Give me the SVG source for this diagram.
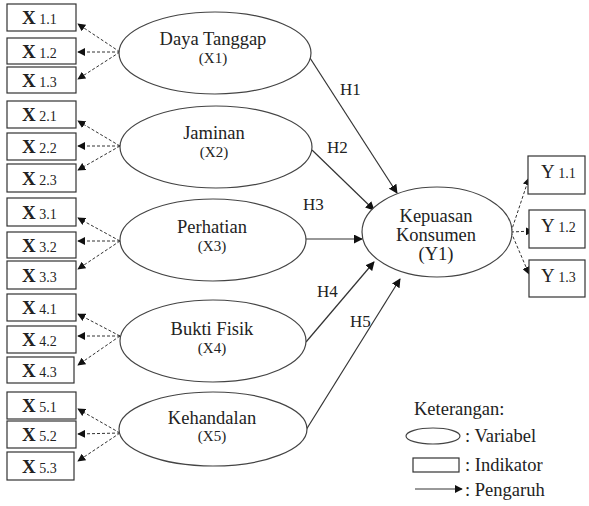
<svg xmlns="http://www.w3.org/2000/svg" width="589" height="506" viewBox="0 0 589 506" font-family="Liberation Serif">
<style>
text{font-family:'Liberation Serif','Times New Roman',serif;fill:#222}
.box{fill:#fff;stroke:#333;stroke-width:1.2}
.ell{fill:#fff;stroke:#444;stroke-width:1.2}
.dash{stroke:#333;stroke-width:1;stroke-dasharray:3,2;fill:none}
.sol{stroke:#333;stroke-width:1.2;fill:none}
.big{font-size:19px}
.bx{font-weight:bold}
.sub{font-size:14px}
.nm{font-size:18.5px;text-anchor:middle}
.cd{font-size:15px;text-anchor:middle}
.h{font-size:17px}
.lg{font-size:18.5px}
</style>
<defs>
<marker id="ah" viewBox="0 0 10 10" refX="9" refY="5" markerWidth="8" markerHeight="8" markerUnits="userSpaceOnUse" orient="auto"><path d="M0,0 L10,5 L0,10 z" fill="#111"/></marker>
<marker id="ah2" viewBox="0 0 10 10" refX="9" refY="5" markerWidth="9" markerHeight="9" markerUnits="userSpaceOnUse" orient="auto"><path d="M0,0 L10,5 L0,10 z" fill="#111"/></marker>
</defs>
<g id="connectors">
<path class="dash" marker-end="url(#ah)" d="M120,52 L78,24"/>
<path class="dash" marker-end="url(#ah)" d="M120,52 L78,52"/>
<path class="dash" marker-end="url(#ah)" d="M120,52 L78,79"/>
<path class="dash" marker-end="url(#ah)" d="M120,146 L78,121"/>
<path class="dash" marker-end="url(#ah)" d="M120,146 L78,146"/>
<path class="dash" marker-end="url(#ah)" d="M120,146 L78,170"/>
<path class="dash" marker-end="url(#ah)" d="M120,241 L78,218"/>
<path class="dash" marker-end="url(#ah)" d="M120,241 L78,241"/>
<path class="dash" marker-end="url(#ah)" d="M120,241 L78,269"/>
<path class="dash" marker-end="url(#ah)" d="M120,336 L78,314"/>
<path class="dash" marker-end="url(#ah)" d="M120,336 L78,336"/>
<path class="dash" marker-end="url(#ah)" d="M120,336 L78,365"/>
<path class="dash" marker-end="url(#ah)" d="M120,433 L78,409"/>
<path class="dash" marker-end="url(#ah)" d="M120,433 L78,434"/>
<path class="dash" marker-end="url(#ah)" d="M120,433 L78,461"/>
<path class="dash" marker-end="url(#ah)" d="M511,232 L529,178"/>
<path class="dash" marker-end="url(#ah)" d="M511,232 L533,231"/>
<path class="dash" marker-end="url(#ah)" d="M511,232 L529,274"/>
<path class="sol" marker-end="url(#ah2)" d="M310,58 L397,193"/>
<path class="sol" marker-end="url(#ah2)" d="M312,150 L374,210"/>
<path class="sol" marker-end="url(#ah2)" d="M306,239 L362,239"/>
<path class="sol" marker-end="url(#ah2)" d="M306,342 L374,262"/>
<path class="sol" marker-end="url(#ah2)" d="M306,430 L400,279"/>
</g>
<g id="labels">
<text class="h" x="340" y="95">H1</text>
<text class="h" x="327" y="153">H2</text>
<text class="h" x="303" y="210">H3</text>
<text class="h" x="317" y="297">H4</text>
<text class="h" x="350" y="327">H5</text>
</g>
<g id="x1"><ellipse class="ell" cx="215" cy="53" rx="96" ry="41"/><text class="nm" x="213" y="45">Daya Tanggap</text><text class="cd" x="213" y="63">(X1)</text></g>
<g id="x2"><ellipse class="ell" cx="216" cy="147" rx="96" ry="41"/><text class="nm" x="214" y="139">Jaminan</text><text class="cd" x="214" y="157">(X2)</text></g>
<g id="x3"><ellipse class="ell" cx="213" cy="240" rx="93" ry="41"/><text class="nm" x="212" y="233">Perhatian</text><text class="cd" x="212" y="251">(X3)</text></g>
<g id="x4"><ellipse class="ell" cx="213" cy="341" rx="93" ry="41"/><text class="nm" x="212" y="335">Bukti Fisik</text><text class="cd" x="212" y="353">(X4)</text></g>
<g id="x5"><ellipse class="ell" cx="213" cy="429" rx="94" ry="37"/><text class="nm" x="212" y="424">Kehandalan</text><text class="cd" x="212" y="441">(X5)</text></g>
<g id="y1"><ellipse class="ell" cx="437" cy="232" rx="75" ry="45"/><text class="nm" x="436" y="222">Kepuasan</text><text class="nm" x="436" y="241">Konsumen</text><text class="nm" x="436" y="260">(Y1)</text></g>
<g id="x11"><rect class="box" x="7" y="4" width="69" height="27"/><text x="22" y="24"><tspan class="big bx">X</tspan><tspan class="sub"> 1.1</tspan></text></g>
<g id="x12"><rect class="box" x="7" y="38" width="69" height="26"/><text x="22" y="58"><tspan class="big bx">X</tspan><tspan class="sub"> 1.2</tspan></text></g>
<g id="x13"><rect class="box" x="7" y="67" width="69" height="26"/><text x="22" y="87"><tspan class="big bx">X</tspan><tspan class="sub"> 1.3</tspan></text></g>
<g id="x21"><rect class="box" x="7" y="101" width="69" height="27"/><text x="22" y="121"><tspan class="big bx">X</tspan><tspan class="sub"> 2.1</tspan></text></g>
<g id="x22"><rect class="box" x="7" y="133" width="69" height="27"/><text x="22" y="153"><tspan class="big bx">X</tspan><tspan class="sub"> 2.2</tspan></text></g>
<g id="x23"><rect class="box" x="7" y="164" width="69" height="28"/><text x="22" y="185"><tspan class="big bx">X</tspan><tspan class="sub"> 2.3</tspan></text></g>
<g id="x31"><rect class="box" x="7" y="198" width="69" height="28"/><text x="22" y="219"><tspan class="big bx">X</tspan><tspan class="sub"> 3.1</tspan></text></g>
<g id="x32"><rect class="box" x="7" y="232" width="69" height="26"/><text x="22" y="252"><tspan class="big bx">X</tspan><tspan class="sub"> 3.2</tspan></text></g>
<g id="x33"><rect class="box" x="7" y="261" width="69" height="28"/><text x="22" y="282"><tspan class="big bx">X</tspan><tspan class="sub"> 3.3</tspan></text></g>
<g id="x41"><rect class="box" x="7" y="294" width="69" height="27"/><text x="22" y="314"><tspan class="big bx">X</tspan><tspan class="sub"> 4.1</tspan></text></g>
<g id="x42"><rect class="box" x="7" y="326" width="69" height="27"/><text x="22" y="346"><tspan class="big bx">X</tspan><tspan class="sub"> 4.2</tspan></text></g>
<g id="x43"><rect class="box" x="7" y="357" width="67" height="26"/><text x="22" y="377"><tspan class="big bx">X</tspan><tspan class="sub"> 4.3</tspan></text></g>
<g id="x51"><rect class="box" x="7" y="392" width="69" height="27"/><text x="22" y="412"><tspan class="big bx">X</tspan><tspan class="sub"> 5.1</tspan></text></g>
<g id="x52"><rect class="box" x="7" y="421" width="69" height="27"/><text x="22" y="441"><tspan class="big bx">X</tspan><tspan class="sub"> 5.2</tspan></text></g>
<g id="x53"><rect class="box" x="7" y="452" width="67" height="28"/><text x="22" y="473"><tspan class="big bx">X</tspan><tspan class="sub"> 5.3</tspan></text></g>
<g id="y11"><rect class="box" x="528" y="156" width="57" height="38"/><text x="541" y="178"><tspan class="big">Y</tspan><tspan class="sub"> 1.1</tspan></text></g>
<g id="y12"><rect class="box" x="529" y="210" width="56" height="38"/><text x="541" y="232"><tspan class="big">Y</tspan><tspan class="sub"> 1.2</tspan></text></g>
<g id="y13"><rect class="box" x="529" y="260" width="56" height="37"/><text x="541" y="282"><tspan class="big">Y</tspan><tspan class="sub"> 1.3</tspan></text></g>
<g id="legend">
<text class="lg" x="414" y="415">Keterangan:</text>
<ellipse class="ell" cx="433" cy="436" rx="27" ry="8"/>
<text class="lg" x="465" y="442">: Variabel</text>
<rect class="box" x="413" y="458" width="46" height="14"/>
<text class="lg" x="465" y="471">: Indikator</text>
<path class="sol" marker-end="url(#ah)" d="M415,489 L462,489" style="stroke-width:1"/>
<text class="lg" x="465" y="496">: Pengaruh</text>
</g>
</svg>
